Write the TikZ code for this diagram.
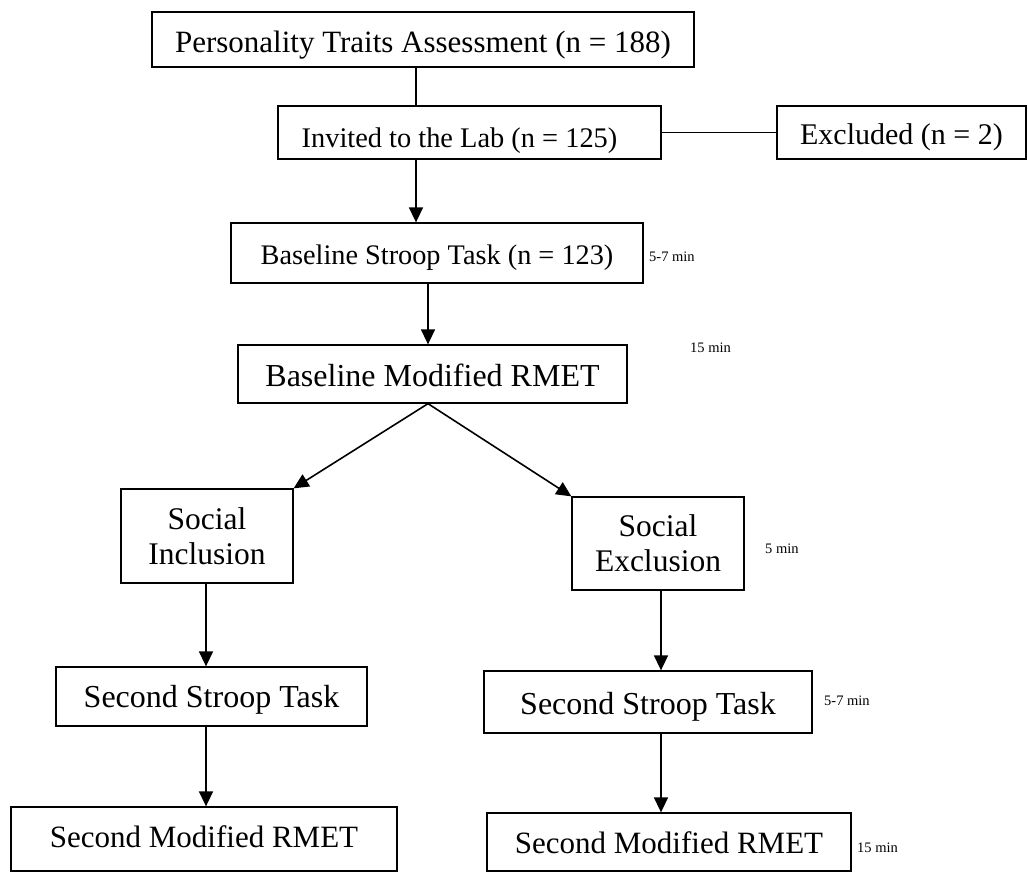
\documentclass[tikz,border=0pt]{standalone}
\usepackage{fontspec}
\setmainfont{Liberation Serif}
\usetikzlibrary{arrows.meta}
\begin{document}
\begin{tikzpicture}[x=1pt,y=-1pt,
  box/.style={draw, line width=1.3pt, inner sep=0pt},
  one/.style={box, text height=#1, text depth=0pt},
  two/.style={box, align=center},
  conn/.style={line width=1.6pt},
  arr/.style={conn, -{Triangle[length=15pt,width=14pt]}},
  dur/.style={anchor=base west, inner sep=0pt, font=\fontsize{14.5}{16}\selectfont}]
\useasboundingbox (0,0) rectangle (1028,872);
% boxes
\node[one=25.5pt, minimum width=542pt, minimum height=55pt, font=\fontsize{31}{35}\selectfont] (pta) at (423,39.5) {Personality Traits Assessment (n = 188)};
\node[one=30pt, minimum width=383pt, minimum height=53pt, font=\fontsize{28.4}{32}\selectfont] (inv) at (469.5,132.5) {Invited to the Lab (n = 125)\kern20pt};
\node[one=25pt, minimum width=249pt, minimum height=53pt, font=\fontsize{30}{34}\selectfont] (exc) at (901.5,132.5) {Excluded (n = 2)};
\node[one=23pt, minimum width=412pt, minimum height=60pt, font=\fontsize{28.3}{32}\selectfont] (bst) at (437,253) {Baseline Stroop Task (n = 123)};
\node[one=25pt, minimum width=389pt, minimum height=58pt, font=\fontsize{32}{36}\selectfont] (brm) at (432.5,374) {Baseline Modified RMET};
\node[two, minimum width=172pt, minimum height=94pt, font=\fontsize{31.5}{35}\selectfont] (sin) at (207,536) {Social\\Inclusion};
\node[two, minimum width=172pt, minimum height=93pt, font=\fontsize{31.5}{35}\selectfont] (sex) at (658,543.5) {Social\\Exclusion};
\node[one=21pt, minimum width=311pt, minimum height=59pt, font=\fontsize{32}{36}\selectfont] (ssl) at (211.5,696.5) {Second Stroop Task};
\node[one=24pt, minimum width=328pt, minimum height=62pt, font=\fontsize{32}{36}\selectfont] (ssr) at (648,702) {Second Stroop Task};
\node[one=16pt, minimum width=386pt, minimum height=64pt, font=\fontsize{31}{35}\selectfont] (sml) at (204,839) {Second Modified RMET};
\node[one=22pt, minimum width=364pt, minimum height=58pt, font=\fontsize{31}{35}\selectfont] (smr) at (669,842) {Second Modified RMET};
% durations
\node[dur] (d1) at (649,261) {5-7 min};
\node[dur] (d2) at (690,352) {15 min};
\node[dur] (d3) at (765,553) {5 min};
\node[dur] (d4) at (824,705) {5-7 min};
\node[dur] (d5) at (857,852) {15 min};
% connector columns
\coordinate (xa) at (416,0);
\coordinate (xb) at (428,0);
\coordinate (xl) at (206,0);
\coordinate (xr) at (661,0);
% connectors
\draw[conn] (pta.south -| xa) -- (inv.north -| xa);
\draw[conn] (inv.east) -- (exc.west);
\draw[arr] (inv.south -| xa) -- (bst.north -| xa);
\draw[arr] (bst.south -| xb) -- (brm.north -| xb);
\draw[arr] (brm.south -| xb) -- (sin.north east);
\draw[arr] (brm.south -| xb) -- (sex.north west);
\draw[arr] (sin.south -| xl) -- (ssl.north -| xl);
\draw[arr] (ssl.south -| xl) -- (sml.north -| xl);
\draw[arr] (sex.south -| xr) -- (ssr.north -| xr);
\draw[arr] (ssr.south -| xr) -- (smr.north -| xr);
\end{tikzpicture}
\end{document}
